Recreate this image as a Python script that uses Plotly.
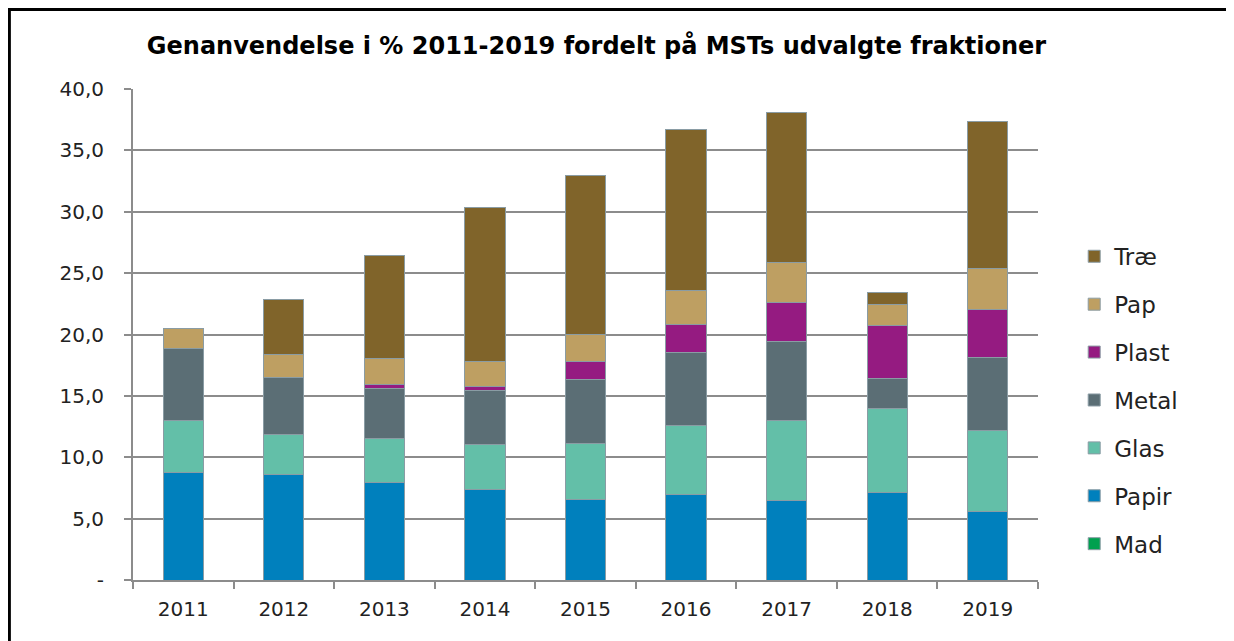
import plotly.graph_objects as go

# Genanvendelse i % fordelt på fraktioner, 2011-2019
years = ["2011", "2012", "2013", "2014", "2015", "2016", "2017", "2018", "2019"]

mad = [0, 0, 0, 0, 0, 0, 0, 0, 0]
papir = [8.75, 8.56, 7.94, 7.40, 6.59, 6.99, 6.48, 7.10, 5.56]
glas = [4.25, 3.31, 3.60, 3.60, 4.55, 5.61, 6.52, 6.86, 6.64]
metal = [5.90, 4.66, 4.07, 4.47, 5.20, 5.90, 6.43, 2.46, 5.90]
plast = [0.00, 0.00, 0.32, 0.28, 1.49, 2.34, 3.20, 4.34, 3.93]
pap = [1.55, 1.82, 2.15, 2.08, 2.17, 2.74, 3.22, 1.65, 3.31]
trae = [0.00, 4.50, 8.34, 12.52, 12.95, 13.14, 12.23, 0.98, 12.00]

y_ticks = [0, 5, 10, 15, 20, 25, 30, 35, 40]
y_labels = ["-", "5,0", "10,0", "15,0", "20,0", "25,0", "30,0", "35,0", "40,0"]

# stacked bottom -> top; legend shows top -> bottom
series = [
    ("Mad", mad, "#00A04F"),
    ("Papir", papir, "#0080BD"),
    ("Glas", glas, "#63BFA8"),
    ("Metal", metal, "#5B6E75"),
    ("Plast", plast, "#951B81"),
    ("Pap", pap, "#BE9F62"),
    ("Træ", trae, "#80642A"),
]

fig = go.Figure()
for i, (name, vals, col) in enumerate(series):
    fig.add_trace(go.Bar(
        x=years, y=vals, name=name, legendgroup=name,
        legendrank=len(series) - i,
        marker=dict(color=col, line=dict(color="#8A9CA4", width=1)),
        width=0.4,
    ))

# the page body has an 8px margin, so the figure is 8px smaller on each axis
fig.update_layout(
    barmode="stack",
    width=1226, height=633,
    paper_bgcolor="white", plot_bgcolor="white",
    margin=dict(l=125, r=196, t=81, b=61),
    font=dict(family="DejaVu Sans", color="#222222", size=20),
    title=dict(
        text="<b>Genanvendelse i % 2011-2019 fordelt på MSTs udvalgte fraktioner</b>",
        x=0.48, xanchor="center", y=0.94, yanchor="middle",
        font=dict(size=24, color="black"),
    ),
    legend=dict(
        traceorder="grouped", tracegroupgap=15,
        x=1.04, xanchor="left", y=0.703, yanchor="top",
        font=dict(size=23, color="#222222"),
        bgcolor="rgba(0,0,0,0)",
    ),
    showlegend=True,
)

fig.update_yaxes(
    range=[0, 40], tickvals=y_ticks, ticktext=y_labels,
    showgrid=True, gridcolor="#8C8C8C", gridwidth=2,
    showline=True, linecolor="#8C8C8C", linewidth=2,
    ticks="outside", ticklen=7, tickcolor="#8C8C8C", tickwidth=2,
    ticklabelstandoff=16, zeroline=False,
)
fig.update_xaxes(
    showline=True, linecolor="#8C8C8C", linewidth=2,
    ticks="outside", ticklen=7, tickcolor="#8C8C8C", tickwidth=2,
    tickson="boundaries", showgrid=False, ticklabelstandoff=10,
)

# outer frame of the chart picture (left, top, right edges)
fig.add_shape(type="rect", xref="paper", yref="paper",
              x0=-0.1366, x1=1.2126, y0=-0.2, y1=1.162,
              line=dict(color="black", width=3), fillcolor="rgba(0,0,0,0)")

fig.write_html("out.html")
